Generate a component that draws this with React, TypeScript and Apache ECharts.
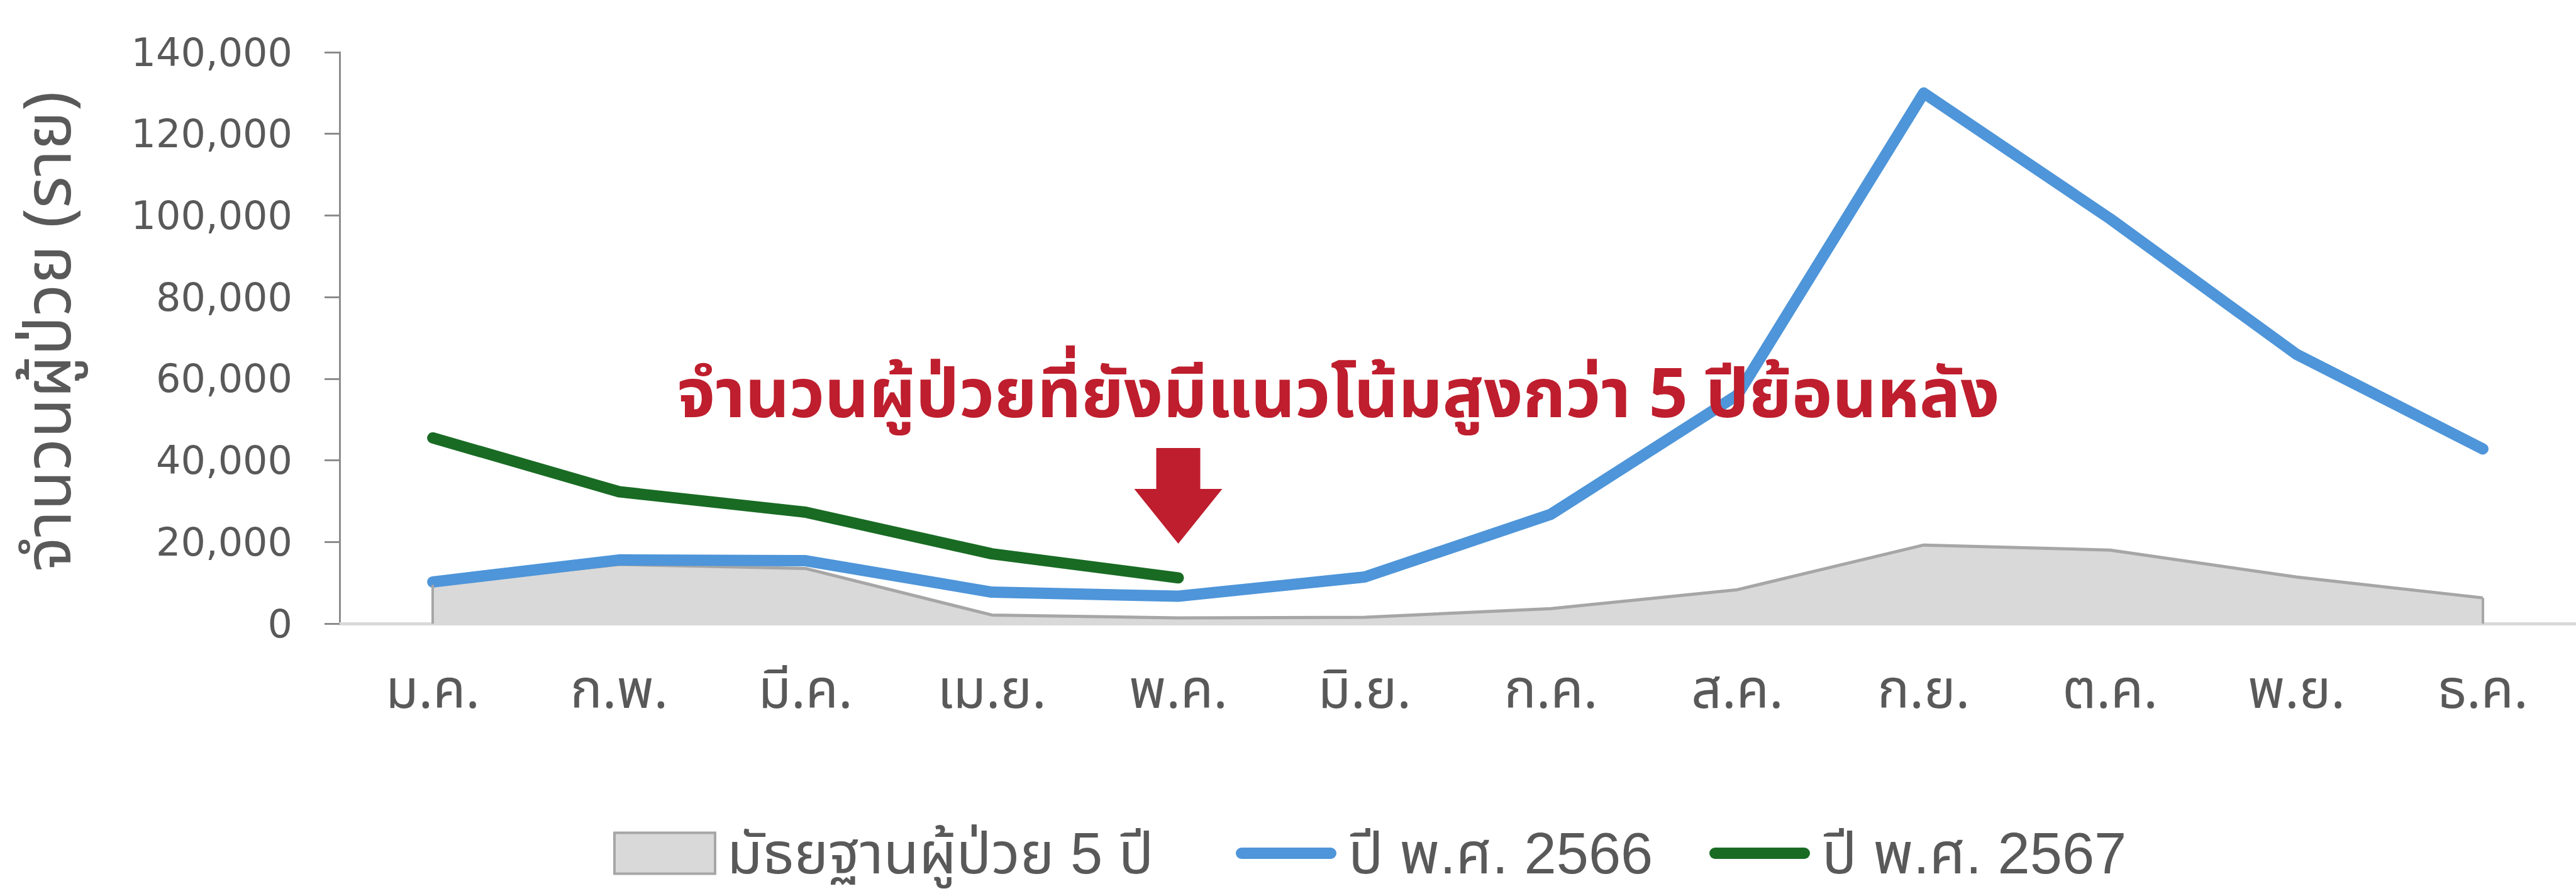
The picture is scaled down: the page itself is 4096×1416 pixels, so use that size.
import React, { useEffect, useRef } from "react";
import * as echarts from "echarts";

const months = ["ม.ค.", "ก.พ.", "มี.ค.", "เม.ย.", "พ.ค.", "มิ.ย.", "ก.ค.", "ส.ค.", "ก.ย.", "ต.ค.", "พ.ย.", "ธ.ค."];
const median5y = [9500, 14500, 13500, 2100, 1400, 1550, 3650, 8300, 19250, 18000, 11400, 6300];
const y2566 = [10200, 15600, 15400, 7700, 6700, 11400, 26800, 56000, 130000, 99200, 66000, 42800];
const y2567 = [45500, 32300, 27300, 17100, 11200];
const yTicks = [0, 20000, 40000, 60000, 80000, 100000, 120000, 140000];

const seriesNames = ["มัธยฐานผู้ป่วย 5 ปี", "ปี พ.ศ. 2566", "ปี พ.ศ. 2567"];
const yAxisTitle = "จำนวนผู้ป่วย (ราย)";
const noteText = "จำนวนผู้ป่วยที่ยังมีแนวโน้มสูงกว่า 5 ปีย้อนหลัง";
const arrowMonth = "พ.ค.";

const THAI = "'Noto Sans Thai', 'Noto Sans', sans-serif";
const LEGEND_FONT = "'Liberation Sans', 'Noto Sans Thai', sans-serif";
const GRAY_TEXT = "#595959";
const RED = "#BE1E2D";
const BLUE = "#4E95D9";
const GREEN = "#196B24";
const AREA_FILL = "#d9d9d9";
const AREA_LINE = "#a6a6a6";
const LINE_ICON = "path://M9,0 L151,0 A9,9 0 0 1 151,18 L9,18 A9,9 0 0 1 9,0 Z";

export default function App() {
  const ref = useRef<HTMLDivElement>(null);
  useEffect(() => {
    if (!ref.current) return;
    const chart = echarts.init(ref.current, null, { renderer: "svg" });
    const last = median5y.length - 1;
    chart.setOption({
      animation: false,
      backgroundColor: "#ffffff",
      grid: { left: 540, right: -12, top: 83, bottom: 425 },
      xAxis: {
        type: "category",
        data: months,
        boundaryGap: true,
        axisLine: { show: true, lineStyle: { color: AREA_FILL, width: 5 } },
        axisTick: { show: false },
        axisLabel: {
          margin: 108,
          verticalAlign: "middle",
          fontSize: 85,
          fontFamily: THAI,
          color: GRAY_TEXT,
        },
      },
      yAxis: {
        type: "value",
        min: yTicks[0],
        max: yTicks[yTicks.length - 1],
        interval: yTicks[1] - yTicks[0],
        splitLine: { show: false },
        axisLine: { show: true, lineStyle: { color: "#8c8c8c", width: 3 } },
        axisTick: { show: true, length: 24, lineStyle: { color: "#8c8c8c", width: 3 } },
        axisLabel: {
          margin: 75,
          fontSize: 62,
          fontFamily: "'DejaVu Sans'",
          color: GRAY_TEXT,
          padding: [0, 0, 16, 0],
          formatter: (v: number) => v.toLocaleString("en-US"),
        },
      },
      legend: {
        left: 970,
        top: 1305,
        itemWidth: 160,
        itemHeight: 65,
        itemGap: 57,
        textStyle: {
          fontSize: 92,
          lineHeight: 84,
          fontFamily: LEGEND_FONT,
          color: GRAY_TEXT,
          padding: [0, 0, 0, 14],
        },
        data: [
          {
            name: seriesNames[0],
            icon: "rect",
            itemStyle: { color: AREA_FILL, borderColor: AREA_LINE, borderWidth: 4 },
            textStyle: { width: 752 },
          },
          { name: seriesNames[1], icon: LINE_ICON, itemStyle: { color: BLUE }, textStyle: { width: 517 } },
          { name: seriesNames[2], icon: LINE_ICON, itemStyle: { color: GREEN }, textStyle: { width: 517 } },
        ],
      },
      series: [
        {
          name: seriesNames[0],
          type: "line",
          data: median5y,
          symbol: "none",
          lineStyle: { color: AREA_LINE, width: 5 },
          itemStyle: { color: AREA_FILL },
          areaStyle: { color: AREA_FILL, opacity: 1 },
          z: 1,
          markLine: {
            silent: true,
            symbol: ["none", "none"],
            label: { show: false },
            lineStyle: { color: AREA_LINE, width: 4, type: "solid" },
            data: [
              [{ coord: [0, 0] }, { coord: [0, median5y[0]] }],
              [{ coord: [last, 0] }, { coord: [last, median5y[last]] }],
            ],
          },
        },
        {
          name: seriesNames[1],
          type: "line",
          data: y2566,
          symbol: "none",
          lineStyle: { color: BLUE, width: 18, cap: "round", join: "round" },
          itemStyle: { color: BLUE },
          z: 3,
        },
        {
          name: seriesNames[2],
          type: "line",
          data: y2567,
          symbol: "none",
          lineStyle: { color: GREEN, width: 18, cap: "round", join: "round" },
          itemStyle: { color: GREEN },
          z: 4,
        },
      ],
    });
    const ax = chart.convertToPixel({ xAxisIndex: 0 }, arrowMonth) as number;
    chart.setOption({
      graphic: [
        {
          type: "text",
          x: 80,
          y: 527,
          rotation: Math.PI / 2,
          style: {
            text: yAxisTitle,
            fontSize: 104,
            fontFamily: THAI,
            fill: GRAY_TEXT,
            align: "center",
            verticalAlign: "middle",
          },
        },
        {
          type: "text",
          x: 2128,
          y: 629,
          z: 10,
          style: {
            text: noteText,
            fontSize: 109,
            fontWeight: "bold",
            fontFamily: THAI,
            fill: RED,
            align: "center",
            verticalAlign: "middle",
          },
        },
        {
          type: "polygon",
          z: 10,
          shape: {
            points: [
              [ax - 35, 712],
              [ax + 35, 712],
              [ax + 35, 777],
              [ax + 70, 777],
              [ax, 864],
              [ax - 70, 777],
              [ax - 35, 777],
            ],
          },
          style: { fill: RED },
        },
      ],
    });
    return () => chart.dispose();
  }, []);
  return <div ref={ref} style={{ position: "absolute", left: 0, top: 0, width: 4096, height: 1416 }} />;
}
